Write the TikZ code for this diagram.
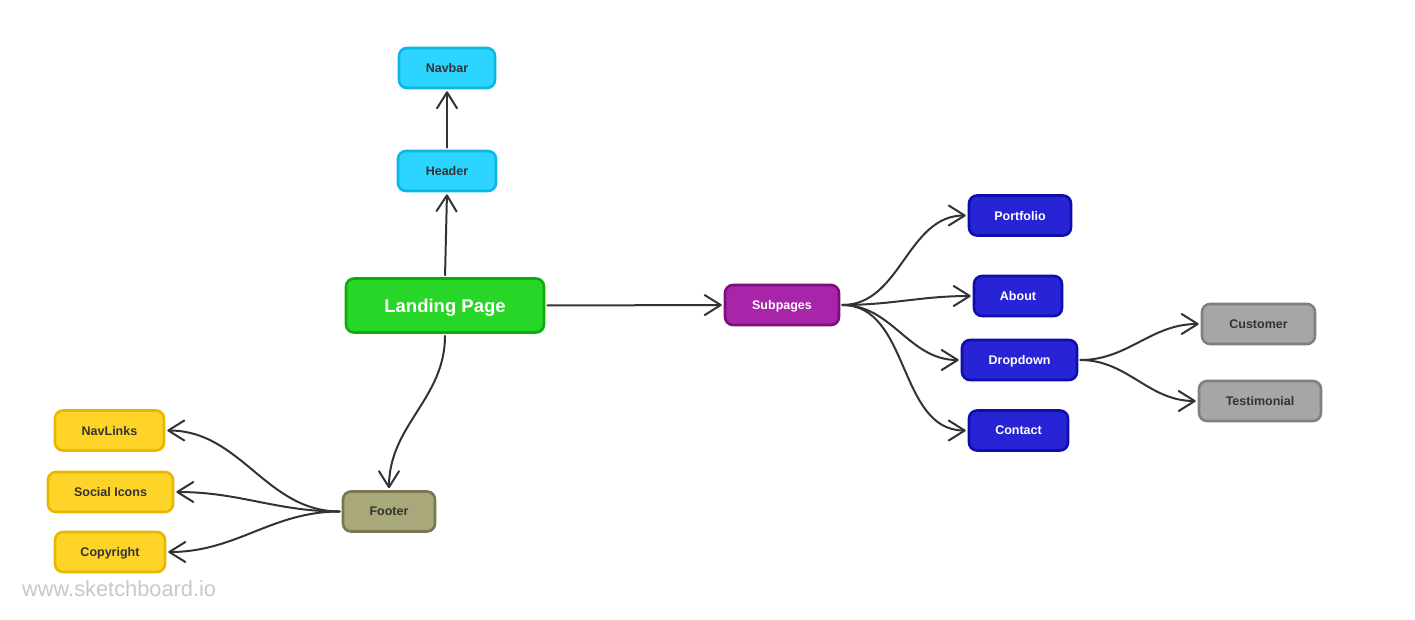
\documentclass[tikz,border=0pt]{standalone}
\usepackage{fontspec}
\setmainfont{Liberation Sans}
\usetikzlibrary{arrows.meta}
\definecolor{edge}{RGB}{51,51,51}
\definecolor{darktext}{RGB}{51,51,51}
\definecolor{cyanfill}{RGB}{44,212,255}
\definecolor{cyandraw}{RGB}{10,184,228}
\definecolor{greenfill}{RGB}{40,214,40}
\definecolor{greendraw}{RGB}{14,170,14}
\definecolor{purplefill}{RGB}{168,36,168}
\definecolor{purpledraw}{RGB}{126,14,126}
\definecolor{bluefill}{RGB}{40,36,214}
\definecolor{bluedraw}{RGB}{14,14,170}
\definecolor{grayfill}{RGB}{166,166,166}
\definecolor{graydraw}{RGB}{128,128,128}
\definecolor{olivefill}{RGB}{168,168,122}
\definecolor{olivedraw}{RGB}{120,120,80}
\definecolor{yellowfill}{RGB}{255,212,40}
\definecolor{yellowdraw}{RGB}{232,184,0}
\definecolor{watermark}{RGB}{200,200,200}
\tikzset{
  box/.style={rectangle, rounded corners=8pt, line width=2.6pt, inner sep=0pt,
    minimum height=40pt, text depth=0pt, font=\fontsize{12.5}{14}\selectfont\bfseries, align=center},
  cyanbox/.style={box, fill=cyanfill, draw=cyandraw, text=darktext},
  greenbox/.style={box, fill=greenfill, draw=greendraw, text=white, minimum height=54pt,
    font=\fontsize{18.5}{21}\selectfont\bfseries},
  purplebox/.style={box, fill=purplefill, draw=purpledraw, text=white},
  bluebox/.style={box, fill=bluefill, draw=bluedraw, text=white},
  graybox/.style={box, fill=grayfill, draw=graydraw, text=darktext},
  olivebox/.style={box, fill=olivefill, draw=olivedraw, text=darktext},
  yellowbox/.style={box, fill=yellowfill, draw=yellowdraw, text=darktext},
  conn/.style={draw=edge, line width=2pt, line cap=round,
    -{Straight Barb[length=16pt, width=20pt, round]}, shorten >=2pt, shorten <=2pt},
}
\begin{document}
\begin{tikzpicture}[x=1pt, y=-1pt]
\useasboundingbox (0,0) rectangle (1415,620);
% nodes
\node[cyanbox, minimum width=96pt] (navbar) at (447,68) {Navbar};
\node[cyanbox, minimum width=98pt] (header) at (447,171) {Header};
\node[greenbox, minimum width=198pt] (landing) at (445,305.5) {Landing Page};
\node[purplebox, minimum width=114pt] (subpages) at (782,305) {Subpages};
\node[bluebox, minimum width=102pt] (portfolio) at (1020,215.5) {Portfolio};
\node[bluebox, minimum width=88pt] (about) at (1018,296) {About};
\node[bluebox, minimum width=115pt] (dropdown) at (1019.5,360) {Dropdown};
\node[bluebox, minimum width=99pt] (contact) at (1018.5,430.5) {Contact};
\node[graybox, minimum width=113pt] (customer) at (1258.5,324) {Customer};
\node[graybox, minimum width=122pt] (testimonial) at (1260,401) {Testimonial};
\node[olivebox, minimum width=92pt] (footer) at (389,511.5) {Footer};
\node[yellowbox, minimum width=109pt] (navlinks) at (109.5,430.5) {NavLinks};
\node[yellowbox, minimum width=125pt] (social) at (110.5,492) {Social Icons};
\node[yellowbox, minimum width=110pt] (copyright) at (110,552) {Copyright};
\node[anchor=west, inner sep=0pt, text=watermark, font=\fontsize{21.8}{24}\selectfont] (wm) at (22,589) {www.sketchboard.io};
% connectors
\draw[conn] (landing.north) -- (header.south);
\draw[conn] (header.north) -- (navbar.south);
\draw[conn] (landing.east) -- (subpages.west);
\draw[conn] (landing.south) to[out=-90, in=90] (footer.north);
\draw[conn] (subpages.east) to[out=0, in=180] (portfolio.west);
\draw[conn] (subpages.east) to[out=0, in=180] (about.west);
\draw[conn] (subpages.east) to[out=0, in=180] (dropdown.west);
\draw[conn] (subpages.east) to[out=0, in=180] (contact.west);
\draw[conn] (dropdown.east) to[out=0, in=180] (customer.west);
\draw[conn] (dropdown.east) to[out=0, in=180] (testimonial.west);
\draw[conn] (footer.west) to[out=180, in=0] (navlinks.east);
\draw[conn] (footer.west) to[out=180, in=0] (social.east);
\draw[conn] (footer.west) to[out=180, in=0] (copyright.east);
\end{tikzpicture}
\end{document}
